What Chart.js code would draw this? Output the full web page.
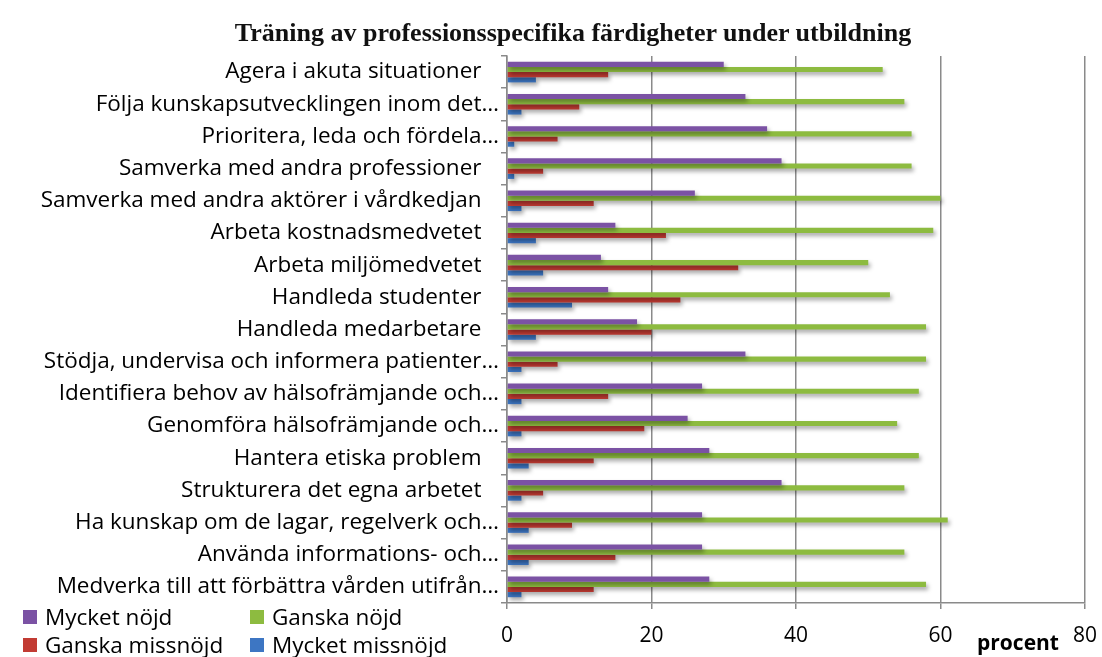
<!DOCTYPE html>
<html lang="sv">
<head>
<meta charset="utf-8">
<title>Träning av professionsspecifika färdigheter under utbildning</title>
<script src="https://cdn.jsdelivr.net/npm/chart.js@4.4.1/dist/chart.umd.min.js"></script>
<style>
  body { margin: 0; background: #fff; overflow: hidden; }
  #wrap { position: relative; width: 1102px; height: 657px; }
  #title { position: absolute; left: 573px; top: 17px; transform: translateX(-50%);
    font-family: "Liberation Serif", serif; font-weight: bold; font-size: 26px;
    line-height: 32px; color: #111; white-space: nowrap; }
  #legend { position: absolute; left: 23px; top: 603px; display: grid;
    grid-template-columns: 227px 230px; row-gap: 1px;
    font-family: "Open Sans", sans-serif; font-size: 22.5px; color: #000; }
  #legend div { display: flex; align-items: center; height: 27px; white-space: nowrap; }
  #legend span { display: inline-block; width: 14px; height: 14px; margin-right: 8px; }
</style>
</head>
<body>
<div id="wrap">
  <canvas id="chart"></canvas>
  <div id="title">Träning av professionsspecifika färdigheter under utbildning</div>
  <div id="legend"></div>
</div>
<script>
// Kategorier (uppifrån och ned)
const categories = [
  'Agera i akuta situationer   ',
  'Följa kunskapsutvecklingen inom det…',
  'Prioritera, leda och fördela…',
  'Samverka med andra professioner   ',
  'Samverka med andra aktörer i vårdkedjan   ',
  'Arbeta kostnadsmedvetet   ',
  'Arbeta miljömedvetet   ',
  'Handleda studenter   ',
  'Handleda medarbetare   ',
  'Stödja, undervisa och informera patienter…',
  'Identifiera behov av hälsofrämjande och…',
  'Genomföra hälsofrämjande och…',
  'Hantera etiska problem   ',
  'Strukturera det egna arbetet   ',
  'Ha kunskap om de lagar, regelverk och…',
  'Använda informations- och…',
  'Medverka till att förbättra vården utifrån…'
];

// Procent per svarsalternativ
const mycketNojd      = [30, 33, 36, 38, 26, 15, 13, 14, 18, 33, 27, 25, 28, 38, 27, 27, 28];
const ganskaNojd      = [52, 55, 56, 56, 60, 59, 50, 53, 58, 58, 57, 54, 57, 55, 61, 55, 58];
const ganskaMissnojd  = [14, 10,  7,  5, 12, 22, 32, 24, 20,  7, 14, 19, 12,  5,  9, 15, 12];
const mycketMissnojd  = [ 4,  2,  1,  1,  2,  4,  5,  9,  4,  2,  2,  2,  3,  2,  3,  3,  2];

const seriesLabels = ['Mycket nöjd', 'Ganska nöjd', 'Ganska missnöjd', 'Mycket missnöjd'];
const seriesColors = ['#7B52A4', '#8DBB40', '#C23B33', '#3D76C3'];
const xTicks = [0, 20, 40, 60, 80];

const labelFont = { family: 'Open Sans', size: 22.5 };

// skugga under staplarna
const barShadow = {
  id: 'barShadow',
  beforeDatasetsDraw(chart) {
    const ctx = chart.ctx;
    ctx.save();
    ctx.shadowColor = 'rgba(0,0,0,0.35)';
    ctx.shadowBlur = 4;
    ctx.shadowOffsetX = 2;
    ctx.shadowOffsetY = 3;
  },
  afterDatasetsDraw(chart) {
    chart.ctx.restore();
  }
};

// axeltitel "procent"
const axisUnit = {
  id: 'axisUnit',
  afterDraw(chart) {
    const ctx = chart.ctx;
    const area = chart.chartArea;
    ctx.save();
    ctx.font = 'bold 21px "Open Sans"';
    ctx.fillStyle = '#000';
    ctx.textAlign = 'center';
    ctx.textBaseline = 'middle';
    ctx.fillText('procent', area.right - 67, 644);
    ctx.restore();
  }
};

const values = [mycketNojd, ganskaNojd, ganskaMissnojd, mycketMissnojd];

new Chart(document.getElementById('chart'), {
  type: 'bar',
  data: {
    labels: categories,
    datasets: seriesLabels.map((label, i) => ({
      label: label,
      data: values[i],
      backgroundColor: seriesColors[i],
      borderWidth: 0,
      categoryPercentage: 0.64,
      barPercentage: 1.0
    }))
  },
  options: {
    indexAxis: 'y',
    responsive: true,
    maintainAspectRatio: false,
    animation: false,
    layout: { padding: { left: 0, right: 17, top: 56, bottom: 0 } },
    scales: {
      x: {
        min: 0,
        max: 80,
        afterBuildTicks: scale => { scale.ticks = xTicks.map(v => ({ value: v })); },
        afterFit: scale => {
          scale.height = 54;
          scale.paddingLeft = 0;
          scale.paddingRight = 0;
        },
        grid: { color: '#8a8a8a', lineWidth: 1.5, tickLength: 6 },
        border: { color: '#8a8a8a', width: 1.5 },
        ticks: { color: '#000', font: { family: 'Open Sans', size: 21 }, padding: 14 }
      },
      y: {
        afterFit: scale => { scale.width = 507; },
        grid: { offset: true, drawOnChartArea: false, tickLength: 6, color: '#8a8a8a', lineWidth: 1.5 },
        border: { color: '#8a8a8a', width: 1.5 },
        ticks: { color: '#000', font: labelFont, padding: 2, autoSkip: false }
      }
    },
    plugins: {
      legend: { display: false },
      tooltip: { enabled: false },
      title: { display: false }
    }
  },
  plugins: [barShadow, axisUnit]
});

// förklaring
const legend = document.getElementById('legend');
seriesLabels.forEach((label, i) => {
  const item = document.createElement('div');
  item.innerHTML = `<span style="background:${seriesColors[i]}"></span>${label}`;
  legend.appendChild(item);
});
</script>
</body>
</html>
